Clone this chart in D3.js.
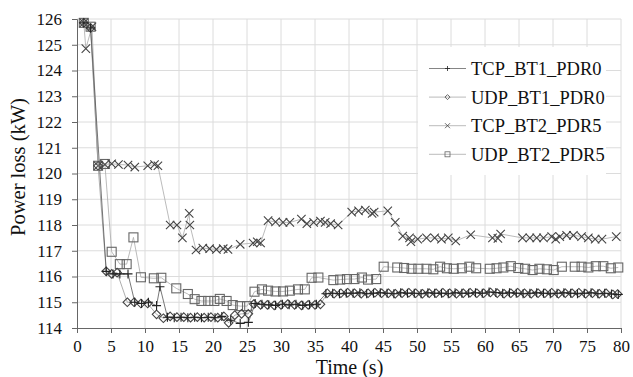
<!DOCTYPE html>
<html>
<head>
<meta charset="utf-8">
<script src="https://cdn.jsdelivr.net/npm/d3@7"></script>
<style>
  body { margin: 0; background: #fff; }
  svg { display: block; font-family: "Liberation Serif", "Times New Roman", serif; }
</style>
</head>
<body>
<div id="chart"></div>
<script>
"use strict";

// series, [time (s), power loss (kW)]
var tcpBt1 = [[1,125.85],[2,125.65],[4.3,116.2],[5.3,116.1],[6.3,116.1],[7.5,116.1],[8.5,115.0],[9.5,114.95],
  [10.5,115.0],[11.7,114.87],[12.2,115.6],[13.3,114.42],[14.3,114.4],[15.3,114.42],[16.3,114.4],[17.3,114.42],
  [18.3,114.4],[19.3,114.42],[20.3,114.4],[21.3,114.45],[22.6,114.3],[24.0,114.18],[25.2,114.22],[26.2,114.95],
  [27.2,114.92],[28.2,114.9],[29.2,114.88],[30.2,114.92],[31.2,114.9],[32.2,114.92],[33.2,114.88],[34.2,114.9],
  [35.2,114.92],[36.6,115.33],[37.6,115.35],[38.6,115.33],[39.6,115.35],[40.6,115.35],[41.6,115.37],[42.6,115.33],
  [43.6,115.35],[44.6,115.37],[45.6,115.35],[46.6,115.33],[47.6,115.37],[48.6,115.35],[49.6,115.35],[50.6,115.33],
  [51.6,115.37],[52.6,115.35],[53.6,115.35],[54.6,115.33],[55.6,115.37],[56.6,115.35],[57.6,115.35],[58.6,115.37],
  [59.6,115.35],[60.6,115.4],[61.6,115.38],[62.6,115.35],[63.6,115.37],[64.6,115.35],[65.6,115.33],[66.6,115.35],
  [67.6,115.37],[68.6,115.35],[69.6,115.33],[70.6,115.35],[71.6,115.37],[72.6,115.35],[73.6,115.33],[74.6,115.35],
  [75.6,115.37],[76.6,115.33],[77.6,115.35],[78.6,115.32],[79.6,115.3]];

var udpBt1 = [[1,125.85],[2,125.65],[3.1,120.3],[4.3,116.2],[5.1,116.1],[5.9,116.15],[7.4,115.0],[8.4,115.0],
  [9.4,114.95],[10.4,114.95],[11.7,114.53],[12.7,114.38],[13.7,114.45],[14.7,114.42],[15.7,114.42],[16.7,114.4],
  [17.7,114.42],[18.7,114.4],[19.7,114.42],[20.7,114.4],[21.6,114.45],[22.3,114.2],[23.2,114.5],[24.2,114.55],
  [25.2,114.55],[26.0,114.93],[27.0,114.9],[28.0,114.9],[29.0,114.88],[30.0,114.9],[31.0,114.93],[32.0,114.9],
  [33.0,114.88],[34.0,114.9],[35.0,114.9],[35.8,114.92],[36.8,115.35],[37.8,115.33],[38.8,115.35],[39.8,115.37],
  [40.8,115.35],[41.8,115.33],[42.8,115.35],[43.8,115.37],[44.8,115.35],[45.8,115.35],[46.8,115.33],[47.8,115.35],
  [48.8,115.37],[49.8,115.35],[50.8,115.33],[51.8,115.35],[52.8,115.35],[53.8,115.37],[54.8,115.35],[55.8,115.33],
  [56.8,115.35],[57.8,115.37],[58.8,115.35],[59.8,115.35],[60.8,115.38],[61.8,115.35],[62.8,115.33],[63.8,115.35],
  [64.8,115.37],[65.8,115.35],[66.8,115.33],[67.8,115.35],[68.8,115.35],[69.8,115.37],[70.8,115.33],[71.8,115.35],
  [72.8,115.35],[73.8,115.37],[74.8,115.33],[75.8,115.35],[76.8,115.33],[77.8,115.35],[78.8,115.3],[79.5,115.32]];

var tcpBt2 = [[1,125.85],[1.3,124.85],[2.2,125.7],[3.1,120.3],[4.1,120.35],[5.1,120.38],[6.1,120.35],[7.5,120.33],
  [8.5,120.25],[10.4,120.3],[11.4,120.35],[11.9,120.3],[13.7,118.0],[14.7,118.0],[15.5,117.5],[16.5,118.45],
  [16.6,118.0],[17.5,117.03],[18.5,117.1],[19.5,117.08],[20.5,117.05],[21.5,117.08],[22.2,117.05],[24.0,117.25],
  [25.9,117.3],[26.5,117.35],[27.0,117.3],[28.1,118.17],[29.2,118.12],[30.3,118.1],[31.3,118.1],[33.0,118.23],
  [33.8,118.05],[34.8,118.1],[35.8,118.15],[36.5,118.1],[37.3,118.05],[38.4,118.0],[40.4,118.5],[41.4,118.55],
  [42.4,118.58],[43.4,118.45],[43.7,118.5],[45.7,118.55],[46.8,118.1],[47.9,117.57],[48.9,117.5],[49.1,117.35],
  [50.1,117.45],[51.4,117.5],[52.6,117.5],[53.6,117.45],[54.6,117.5],[55.7,117.38],[57.9,117.62],[61.1,117.5],
  [61.9,117.48],[62.3,117.65],[65.5,117.5],[66.6,117.5],[67.6,117.5],[68.6,117.5],[69.8,117.55],[70.4,117.45],
  [71.0,117.55],[72.0,117.6],[73.0,117.6],[74.2,117.55],[75.2,117.5],[76.2,117.45],[77.2,117.45],[79.3,117.55]];

var udpBt2 = [[1,125.85],[2,125.7],[3.1,120.3],[4.1,120.37],[5.1,116.96],[6.3,116.48],[7.3,116.48],[8.3,117.52],
  [9.4,115.97],[11.3,115.93],[12.4,115.95],[14.6,115.54],[16.3,115.32],[17.3,115.12],[18.3,115.05],[19.3,115.05],
  [20.2,115.05],[21.0,115.13],[22.0,115.05],[22.9,114.89],[24.0,114.85],[25.0,114.85],[26.1,115.41],[27.2,115.5],
  [28.1,115.45],[29.2,115.42],[30.3,115.42],[31.3,115.45],[32.5,115.5],[33.5,115.5],[34.5,115.95],[35.5,115.96],
  [37.7,115.86],[38.7,115.88],[39.7,115.9],[40.8,115.9],[41.9,115.96],[42.8,115.88],[44.0,115.9],[45.1,116.38],
  [47.1,116.35],[48.1,116.33],[49.2,116.3],[50.2,116.3],[51.4,116.3],[52.4,116.28],[53.4,116.38],[54.4,116.32],
  [55.4,116.3],[56.6,116.32],[57.7,116.38],[58.7,116.32],[60.7,116.3],[61.7,116.32],[62.7,116.35],[63.8,116.4],
  [64.9,116.33],[65.9,116.3],[67.0,116.25],[68.0,116.3],[69.1,116.28],[70.1,116.25],[71.3,116.38],[73.2,116.38],
  [74.2,116.38],[75.2,116.35],[76.3,116.4],[77.4,116.4],[78.5,116.32],[79.6,116.35]];

var seriesNames = ["TCP_BT1_PDR0", "UDP_BT1_PDR0", "TCP_BT2_PDR5", "UDP_BT2_PDR5"];
var xTicks = d3.range(0, 81, 5);
var yTicks = d3.range(114, 127, 1);

var width = 633, height = 377;
var margin = { top: 19, right: 12, bottom: 49, left: 77 };
var w = width - margin.left - margin.right,
  h = height - margin.top - margin.bottom;
var serif = "'Liberation Serif', 'Times New Roman', serif";

var svg = d3.select("#chart").append("svg")
  .attr("width", width)
  .attr("height", height);

var g = svg.append("g").attr("transform", "translate(" + margin.left + "," + margin.top + ")");

var x = d3.scaleLinear().domain([0, 80]).range([0, w]);
var y = d3.scaleLinear().domain([114, 126]).range([h, 0]);

// grid
g.append("g").selectAll("line").data(yTicks.slice(1)).enter().append("line")
  .attr("x1", 0).attr("x2", w)
  .attr("y1", d => y(d)).attr("y2", d => y(d))
  .attr("stroke", "#dcdcdc").attr("stroke-width", 1);
g.append("g").selectAll("line").data(xTicks.slice(1)).enter().append("line")
  .attr("x1", d => x(d)).attr("x2", d => x(d))
  .attr("y1", 0).attr("y2", h)
  .attr("stroke", "#dcdcdc").attr("stroke-width", 1);

// axes
var xAxis = g.append("g").attr("transform", "translate(0," + h + ")")
  .call(d3.axisBottom(x).tickValues(xTicks).tickSizeOuter(0).tickSize(5).tickPadding(7));
var yAxis = g.append("g")
  .call(d3.axisLeft(y).tickValues(yTicks).tickSizeOuter(0).tickSize(5).tickPadding(10));
[xAxis, yAxis].forEach(function(a) {
  a.attr("font-family", serif);
  a.select(".domain").attr("stroke", "#666");
  a.selectAll(".tick line").attr("stroke", "#666");
  a.selectAll("text").attr("font-size", 17).attr("fill", "#111");
});

var line = d3.line().x(d => x(d[0])).y(d => y(d[1]));

// marker shapes
function drawMarker(sel, type, s, sw) {
  if (type === "plus") {
    sel.append("path").attr("d", "M" + (-s) + ",0H" + s + "M0," + (-s) + "V" + s)
      .attr("stroke", "#222").attr("stroke-width", sw).attr("fill", "none");
  } else if (type === "diamond") {
    sel.append("path").attr("d", "M0," + (-s) + "L" + s + ",0L0," + s + "L" + (-s) + ",0Z")
      .attr("stroke", "#444").attr("stroke-width", sw).attr("fill", "none");
  } else if (type === "cross") {
    sel.append("path").attr("d", "M" + (-s) + "," + (-s) + "L" + s + "," + s + "M" + s + "," + (-s) + "L" + (-s) + "," + s)
      .attr("stroke", "#444").attr("stroke-width", sw).attr("fill", "none");
  } else {
    sel.append("rect").attr("x", -s).attr("y", -s).attr("width", 2 * s).attr("height", 2 * s)
      .attr("stroke", "#666").attr("stroke-width", sw).attr("fill", "none");
  }
}

var series = [
  { name: seriesNames[3], data: udpBt2, type: "square", color: "#aaa", size: 4.5 },
  { name: seriesNames[2], data: tcpBt2, type: "cross", color: "#aaa", size: 4.2 },
  { name: seriesNames[1], data: udpBt1, type: "diamond", color: "#999", size: 4.3 },
  { name: seriesNames[0], data: tcpBt1, type: "plus", color: "#555", size: 4.5 }
];

series.forEach(function(s) {
  g.append("path").datum(s.data)
    .attr("d", line)
    .attr("fill", "none")
    .attr("stroke", s.color)
    .attr("stroke-width", 0.8);
  g.append("g").selectAll("g").data(s.data).enter().append("g")
    .attr("transform", d => "translate(" + x(d[0]) + "," + y(d[1]) + ")")
    .each(function() { drawMarker(d3.select(this), s.type, s.size, 1.1); });
});

// legend
var legend = svg.append("g").attr("font-family", serif);
legend.append("rect")
  .attr("x", 418).attr("y", 47).attr("width", 188).attr("height", 128)
  .attr("fill", "#fff");
var legendTypes = ["plus", "diamond", "cross", "square"];
var legendColors = ["#666", "#aaa", "#aaa", "#aaa"];
seriesNames.forEach(function(n, i) {
  var ly = 68.5 + i * 28.6;
  var row = legend.append("g").attr("transform", "translate(0," + ly + ")");
  row.append("line").attr("x1", 429).attr("x2", 466).attr("y1", 0).attr("y2", 0)
    .attr("stroke", legendColors[i]).attr("stroke-width", 0.8);
  drawMarker(row.append("g").attr("transform", "translate(447.5,0)"), legendTypes[i], 2.5, 0.8);
  row.append("text").attr("x", 471).attr("y", 6.5)
    .attr("font-size", 18.5).attr("fill", "#111").text(n);
});

// axis titles
svg.append("text")
  .attr("font-family", serif)
  .attr("x", margin.left + w / 2 + 0.5).attr("y", 374)
  .attr("text-anchor", "middle").attr("font-size", 20).attr("fill", "#111")
  .text("Time (s)");
svg.append("text")
  .attr("font-family", serif)
  .attr("transform", "translate(25,167) rotate(-90)")
  .attr("text-anchor", "middle").attr("font-size", 20.5).attr("fill", "#111")
  .text("Power loss (kW)");
</script>
</body>
</html>
